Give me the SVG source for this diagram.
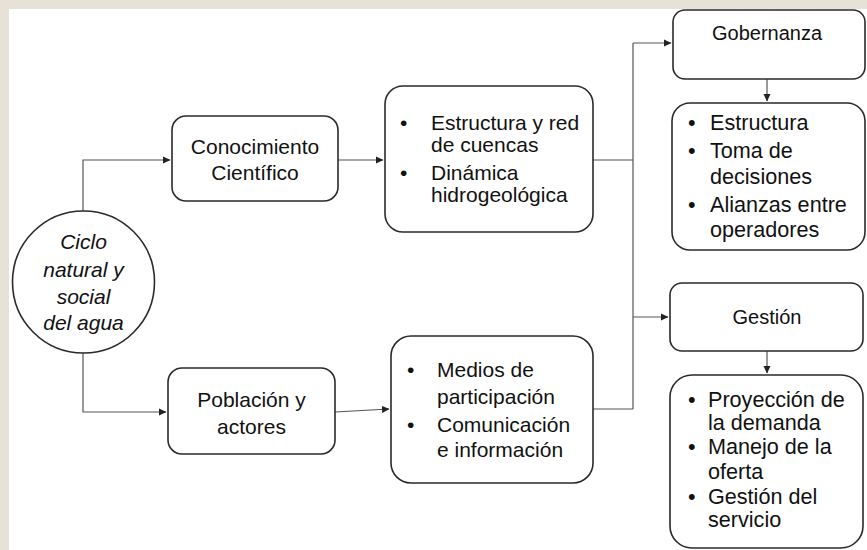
<svg xmlns="http://www.w3.org/2000/svg" width="867" height="550" viewBox="0 0 867 550">
<defs>
<marker id="ah" markerWidth="8" markerHeight="8" refX="7" refY="4" orient="auto" markerUnits="userSpaceOnUse">
<path d="M0,0.5 L7.5,4 L0,7.5 Z" fill="#222"/>
</marker>
</defs>
<style>
.box{fill:#fff;stroke:#2a2a2a;stroke-width:1.6}
.t{font-family:"Liberation Sans",Arial,sans-serif;font-size:21px;fill:#111}
.r{font-size:21.6px}
.h{font-size:20px}
.c{text-anchor:middle}
.i{font-style:italic}
.con{fill:none;stroke:#555;stroke-width:1.2}
</style>
<rect width="867" height="550" fill="#e6e2d8"/>
<rect x="9" y="9" width="858" height="541" fill="#fff"/>
<g id="connectors">
<path class="con" d="M83,211 V160 H170" marker-end="url(#ah)"/>
<path class="con" d="M83,353 V412 H166" marker-end="url(#ah)"/>
<path class="con" d="M338,160 H383" marker-end="url(#ah)"/>
<path class="con" d="M335,412 L389,409" marker-end="url(#ah)"/>
<path class="con" d="M593,160 H633"/>
<path class="con" d="M593,409 H633"/>
<path class="con" d="M633,409 V43"/>
<path class="con" d="M633,43 H671" marker-end="url(#ah)"/>
<path class="con" d="M633,317 H668" marker-end="url(#ah)"/>
<path class="con" d="M767,79 V101" marker-end="url(#ah)"/>
<path class="con" d="M767,351 V373" marker-end="url(#ah)"/>
</g>
<g id="ciclo">
<circle class="box" cx="83.5" cy="282" r="71"/>
<text class="t c i" x="83.5" y="249">Ciclo</text>
<text class="t c i" x="83.5" y="277">natural y</text>
<text class="t c i" x="83.5" y="304">social</text>
<text class="t c i" x="83.5" y="330">del agua</text>
</g>
<g id="conocimiento">
<rect class="box" x="172" y="116" width="166" height="85" rx="14"/>
<text class="t c" x="255" y="154">Conocimiento</text>
<text class="t c" x="255" y="180">Científico</text>
</g>
<g id="poblacion">
<rect class="box" x="168" y="368" width="167" height="86" rx="14"/>
<text class="t c" x="251.5" y="407">Población y</text>
<text class="t c" x="251.5" y="434">actores</text>
</g>
<g id="estructura-red">
<rect class="box" x="385" y="86" width="208" height="146" rx="18"/>
<text class="t" x="400" y="130">•</text>
<text class="t" x="431" y="130">Estructura y red</text>
<text class="t" x="431" y="152">de cuencas</text>
<text class="t" x="400" y="180">•</text>
<text class="t" x="431" y="180">Dinámica</text>
<text class="t" x="431" y="202">hidrogeológica</text>
</g>
<g id="medios">
<rect class="box" x="391" y="336" width="202" height="147" rx="20"/>
<text class="t" x="407" y="377">•</text>
<text class="t" x="437" y="377">Medios de</text>
<text class="t" x="437" y="404">participación</text>
<text class="t" x="407" y="432">•</text>
<text class="t" x="437" y="432">Comunicación</text>
<text class="t" x="437" y="457">e información</text>
</g>
<g id="gobernanza">
<rect class="box" x="673" y="10" width="192" height="69" rx="12"/>
<text class="t h c" x="767" y="40">Gobernanza</text>
</g>
<g id="gobernanza-lista">
<rect class="box" x="672" y="103" width="193" height="147" rx="18"/>
<text class="t r" x="688" y="130">•</text>
<text class="t r" x="710" y="130">Estructura</text>
<text class="t r" x="688" y="158">•</text>
<text class="t r" x="710" y="158">Toma de</text>
<text class="t r" x="710" y="184">decisiones</text>
<text class="t r" x="688" y="212">•</text>
<text class="t r" x="710" y="212">Alianzas entre</text>
<text class="t r" x="710" y="237">operadores</text>
</g>
<g id="gestion">
<rect class="box" x="670" y="283" width="193" height="68" rx="12"/>
<text class="t h c" x="767" y="324">Gestión</text>
</g>
<g id="gestion-lista">
<rect class="box" x="670" y="375" width="193" height="173" rx="22"/>
<text class="t r" x="688" y="407">•</text>
<text class="t r" x="708" y="407">Proyección de</text>
<text class="t r" x="708" y="430">la demanda</text>
<text class="t r" x="688" y="454">•</text>
<text class="t r" x="708" y="454">Manejo de la</text>
<text class="t r" x="708" y="479">oferta</text>
<text class="t r" x="688" y="504">•</text>
<text class="t r" x="708" y="504">Gestión del</text>
<text class="t r" x="708" y="527">servicio</text>
</g>
</svg>
